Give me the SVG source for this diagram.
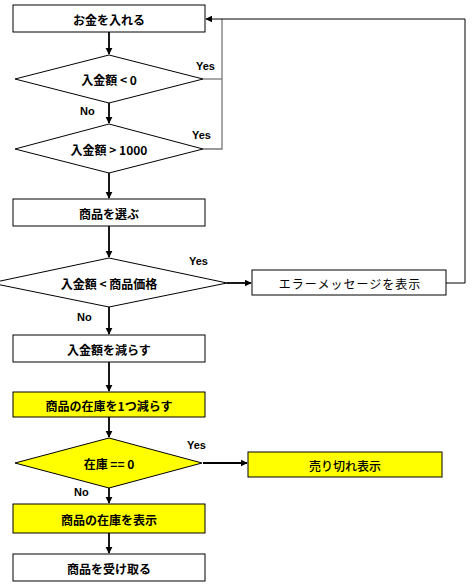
<svg xmlns="http://www.w3.org/2000/svg" width="474" height="587" viewBox="0 0 474 587">
<style>
.box{fill:#fff;stroke:#000;stroke-width:1}
.yel{fill:#ffff00;stroke:#000;stroke-width:1}
.t{font-family:"Noto Sans CJK JP","Liberation Sans",sans-serif;font-size:12px;font-weight:bold;text-anchor:middle;dominant-baseline:central;fill:#000}
.tr{font-weight:normal;letter-spacing:1px}
.lbl{font-family:"Liberation Sans","Noto Sans CJK JP",sans-serif;font-size:11px;font-weight:bold;fill:#000}
.arr{fill:none;stroke:#000;stroke-width:1.8;marker-end:url(#ah)}
.ln{fill:none;stroke:#000;stroke-width:1}
.gl{fill:none;stroke:#777;stroke-width:1.3}
</style>
<defs>
<marker id="ah" viewBox="0 0 10 10" refX="9" refY="5" markerWidth="4" markerHeight="4" orient="auto" markerUnits="strokeWidth">
<path d="M0,0 L10,5 L0,10 z" fill="#000"/>
</marker>
<marker id="ah2" viewBox="0 0 10 10" refX="9" refY="5" markerWidth="7" markerHeight="7" orient="auto" markerUnits="strokeWidth">
<path d="M0,0 L10,5 L0,10 z" fill="#000"/>
</marker>
</defs>
<rect width="474" height="587" fill="#fff"/>
<g id="connectors">
<path class="arr" d="M109,32 V54"/>
<path class="arr" d="M109,103 V123"/>
<path class="arr" d="M109,173 V198"/>
<path class="arr" d="M109,226 V257"/>
<path class="arr" d="M109,307 V334"/>
<path class="arr" d="M109,362 V391"/>
<path class="arr" d="M109,417 V437"/>
<path class="arr" d="M109,488 V503"/>
<path class="arr" d="M109,533 V553"/>
<path class="gl" d="M203,79 H222"/>
<path class="gl" d="M203,149 H222 V19"/>
<path class="ln" d="M446,283 H465 V19 H206" marker-end="url(#ah2)"/>
<path class="arr" d="M227,283 H251"/>
<path class="arr" d="M203,463 H247"/>
</g>
<g id="n1"><rect class="box" x="13" y="5" width="192" height="27"/><text class="t" x="109" y="19">お金を入れる</text></g>
<g id="d1"><polygon class="box" points="109,55 203,79 109,103 15,79"/><text class="t" x="109" y="79">入金額 &lt; 0</text></g>
<g id="d2"><polygon class="box" points="109,124 203,149 109,173 15,149"/><text class="t" x="109" y="149">入金額 &gt; 1000</text></g>
<g id="n2"><rect class="box" x="13" y="199" width="192" height="27"/><text class="t" x="109" y="213">商品を選ぶ</text></g>
<g id="d3"><polygon class="box" points="109,258 227,283 109,307 -9,283"/><text class="t" x="109" y="283">入金額 &lt; 商品価格</text></g>
<g id="n3"><rect class="box" x="252" y="270" width="194" height="25"/><text class="t tr" x="350" y="283">エラーメッセージを表示</text></g>
<g id="n4"><rect class="box" x="13" y="335" width="192" height="27"/><text class="t" x="109" y="349">入金額を減らす</text></g>
<g id="n5"><rect class="yel" x="13" y="392" width="192" height="25"/><text class="t" x="109" y="405">商品の在庫を1つ減らす</text></g>
<g id="d4"><polygon class="yel" points="109,438 202,463 109,488 15,463"/><text class="t" x="109" y="463">在庫 == 0</text></g>
<g id="n6"><rect class="yel" x="248" y="452" width="194" height="25"/><text class="t" x="345" y="465" style="font-weight:500">売り切れ表示</text></g>
<g id="n7"><rect class="yel" x="13" y="504" width="192" height="29"/><text class="t" x="109" y="519">商品の在庫を表示</text></g>
<g id="n8"><rect class="box" x="13" y="554" width="192" height="27"/><text class="t" x="109" y="568">商品を受け取る</text></g>
<g id="labels">
<text class="lbl" x="196" y="70">Yes</text>
<text class="lbl" x="80" y="115">No</text>
<text class="lbl" x="192" y="139">Yes</text>
<text class="lbl" x="189" y="265">Yes</text>
<text class="lbl" x="77" y="321">No</text>
<text class="lbl" x="187" y="449">Yes</text>
<text class="lbl" x="74" y="496">No</text>
</g>
</svg>
